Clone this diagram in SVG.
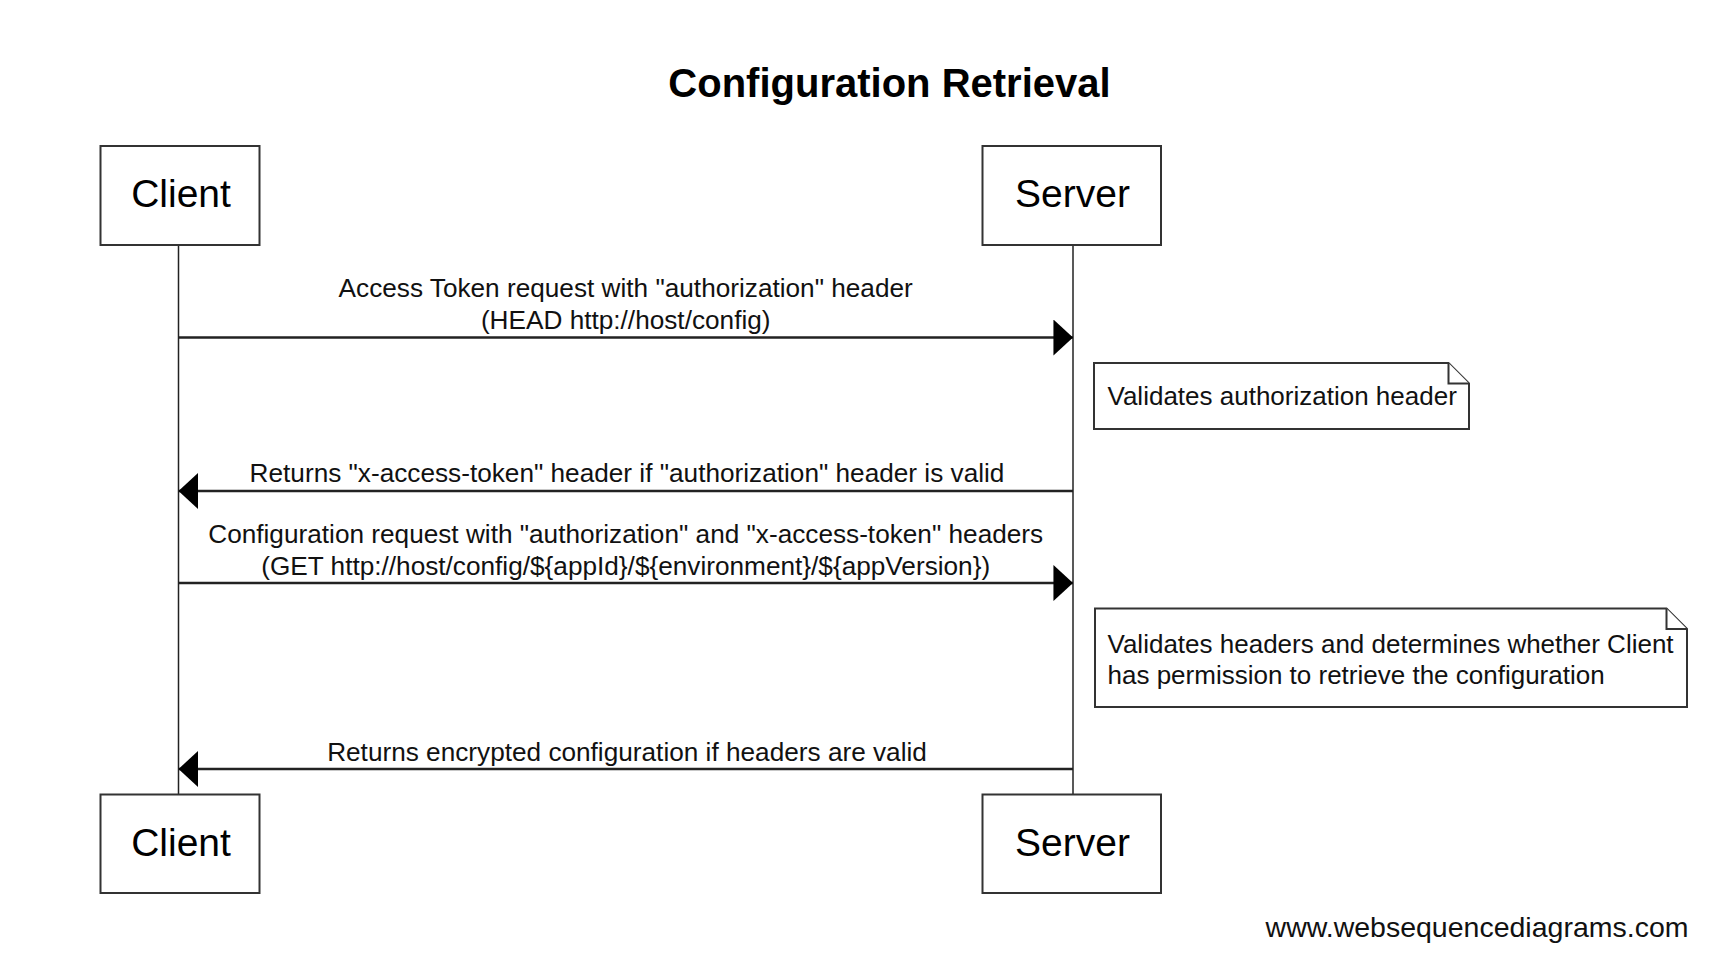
<svg xmlns="http://www.w3.org/2000/svg" width="1724" height="972" viewBox="0 0 1724 972">
  <style>
    text { font-family: "Liberation Sans", Arial, sans-serif; fill: #000; }
    .title { font-size: 40px; font-weight: bold; text-anchor: middle; }
    .actor rect { fill: #fff; stroke: #333; stroke-width: 2; }
    .actor text { font-size: 39px; text-anchor: middle; }
    .life { stroke: #222; stroke-width: 1.5; fill: none; }
    .msg { stroke: #222; stroke-width: 2.5; fill: none; marker-end: url(#arrow); }
    .lbl { font-size: 26.2px; text-anchor: middle; fill: #111; }
    .note path { fill: #fff; stroke: #333; stroke-width: 2; }
    .note text { font-size: 26px; fill: #111; }
    .wm { font-size: 28.5px; text-anchor: end; fill: #111; }
  </style>
  <defs>
    <marker id="arrow" markerUnits="userSpaceOnUse" markerWidth="20" markerHeight="36" viewBox="0 0 19 35" refX="19" refY="17.5" orient="auto">
      <path d="M0,0 L19,17.5 L0,35 Z" fill="#000"/>
    </marker>
  </defs>
  <rect width="1724" height="972" fill="#fff"/>

  <g id="title">
    <text class="title" x="889.5" y="96.7">Configuration Retrieval</text>
  </g>

  <g id="connectors">
    <line class="life" x1="178.5" y1="245" x2="178.5" y2="795"/>
    <line class="life" x1="1073" y1="245" x2="1073" y2="795"/>
    <g id="msg1">
      <line class="msg" x1="178.5" y1="337.5" x2="1073" y2="337.5"/>
      <text class="lbl" x="625.7" y="297">Access Token request with "authorization" header</text>
      <text class="lbl" x="625.7" y="328.5">(HEAD http://host/config)</text>
    </g>
    <g id="msg2">
      <line class="msg" x1="1073" y1="491" x2="178.5" y2="491"/>
      <text class="lbl" x="627" y="482">Returns "x-access-token" header if "authorization" header is valid</text>
    </g>
    <g id="msg3">
      <line class="msg" x1="178.5" y1="583" x2="1073" y2="583"/>
      <text class="lbl" x="625.7" y="543">Configuration request with "authorization" and "x-access-token" headers</text>
      <text class="lbl" x="625.7" y="574.5">(GET http://host/config/${appId}/${environment}/${appVersion})</text>
    </g>
    <g id="msg4">
      <line class="msg" x1="1073" y1="769" x2="178.5" y2="769"/>
      <text class="lbl" x="627" y="760.5">Returns encrypted configuration if headers are valid</text>
    </g>
  </g>

  <g id="client-top" class="actor">
    <rect x="100.5" y="146" width="159" height="99"/>
    <text x="181" y="207.3">Client</text>
  </g>
  <g id="server-top" class="actor">
    <rect x="982.5" y="146" width="178.5" height="99"/>
    <text x="1072.5" y="207.3">Server</text>
  </g>
  <g id="client-bottom" class="actor">
    <rect x="100.5" y="794.5" width="159" height="98.5"/>
    <text x="181" y="855.8">Client</text>
  </g>
  <g id="server-bottom" class="actor">
    <rect x="982.5" y="794.5" width="178.5" height="98.5"/>
    <text x="1072.5" y="855.8">Server</text>
  </g>

  <g id="note1" class="note">
    <path d="M1094,363 L1448.5,363 L1469,383.5 L1469,429 L1094,429 Z"/>
    <path d="M1448.5,363 L1448.5,383.5 L1469,383.5"/>
    <text x="1107.5" y="405">Validates authorization header</text>
  </g>
  <g id="note2" class="note">
    <path d="M1095,608.5 L1666.5,608.5 L1687,629 L1687,707 L1095,707 Z"/>
    <path d="M1666.5,608.5 L1666.5,629 L1687,629"/>
    <text x="1107.5" y="652.5">Validates headers and determines whether Client</text>
    <text x="1107.5" y="683.5">has permission to retrieve the configuration</text>
  </g>

  <g id="watermark">
    <text class="wm" x="1688.5" y="937.3">www.websequencediagrams.com</text>
  </g>
</svg>
